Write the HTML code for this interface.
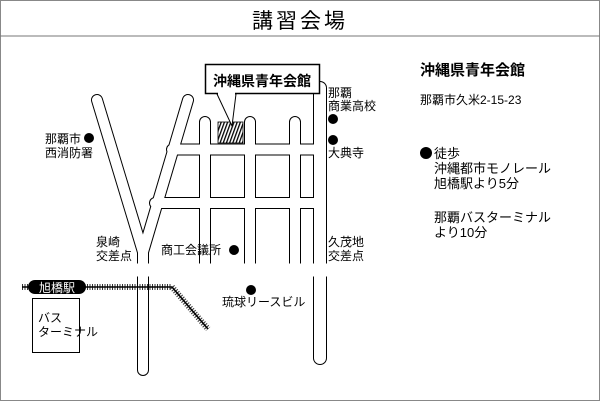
<!DOCTYPE html>
<html><head><meta charset="utf-8"><style>
body{margin:0;background:#fff}
svg{display:block}
text{font-family:"Liberation Sans","Noto Sans CJK JP",sans-serif;fill:#000}
</style></head><body>
<svg width="601" height="401" viewBox="0 0 601 401" xmlns="http://www.w3.org/2000/svg">
<defs>
<pattern id="h" width="3" height="3" patternUnits="userSpaceOnUse" patternTransform="rotate(20)">
<rect width="3" height="3" fill="#fff"/><rect width="1.3" height="3" fill="#000"/></pattern>
</defs>
<rect x="0.5" y="0.5" width="599" height="400" fill="#fff" stroke="#888"/>
<line x1="0" y1="36" x2="600" y2="36" stroke="#777" stroke-width="1"/>
<text x="300" y="28" font-size="21" text-anchor="middle" letter-spacing="3">講習会場</text>

<g fill="none" stroke-linecap="round" stroke-linejoin="round">
<g stroke="#000" stroke-width="12">
<path d="M97,100 L143,252 L143,370"/>
<path d="M188,100 L143,252"/>
<path d="M33,270 L353,270"/>
<path d="M172,149.5 L319,149.5"/>
<path d="M155,203 L319,203"/>
<path d="M205,122 V270 M250,122 V270 M295,122 V270"/>
<path d="M320,88 V358" stroke-width="14"/>
</g>
<g stroke="#fff" stroke-width="10">
<path d="M97,100 L143,252 L143,370"/>
<path d="M188,100 L143,252"/>
<path d="M33,270 L353,270" stroke-width="13"/>
<path d="M172,149.5 L319,149.5"/>
<path d="M155,203 L319,203"/>
<path d="M205,122 V270 M250,122 V270 M295,122 V270"/>
<path d="M320,88 V358" stroke-width="12"/>
</g>
</g>

<rect x="218" y="122" width="25" height="21" fill="url(#h)" stroke="#000" stroke-width="0.8"/>
<g stroke="#000">
<path d="M22,287 H172 L208,329" fill="none" stroke-width="1.5"/>
<path d="M22,287 H172 L208,329" fill="none" stroke-width="6" stroke-dasharray="1,1.5" opacity="0.8"/>
</g>
<rect x="28" y="280" width="58" height="14" rx="7" fill="#000"/>
<text x="57" y="292" font-size="12" text-anchor="middle" style="fill:#fff">旭橋駅</text>
<rect x="32.5" y="298.5" width="47" height="54" fill="#fff" stroke="#000"/>
<text x="38" y="322" font-size="12">バス</text>
<text x="38" y="336" font-size="12">ターミナル</text>

<path d="M217,94 L232,126 L236,94 Z" fill="#fff" stroke="#000"/>
<rect x="205.5" y="64.5" width="114" height="29" fill="#fff" stroke="#000" stroke-width="1.5"/>
<line x1="218" y1="93.5" x2="235" y2="93.5" stroke="#fff" stroke-width="2"/>
<text x="262" y="86" font-size="14" font-weight="bold" text-anchor="middle">沖縄県青年会館</text>

<g font-size="12">
<text x="45" y="143">那覇市</text><circle cx="89" cy="138" r="5"/>
<text x="45" y="157">西消防署</text>
<text x="96" y="246">泉崎</text><text x="96" y="260">交差点</text>
<text x="161" y="254">商工会議所</text><circle cx="234" cy="250" r="5"/>
<circle cx="251" cy="290" r="5"/><text x="222" y="306">琉球リースビル</text>
<text x="328" y="97">那覇</text><text x="328" y="110">商業高校</text>
<circle cx="333" cy="119" r="5"/><circle cx="333" cy="140" r="5"/>
<text x="328" y="157">大典寺</text>
<text x="328" y="246">久茂地</text><text x="328" y="260">交差点</text>
</g>
<text x="420" y="75" font-size="15" font-weight="bold">沖縄県青年会館</text>
<text x="420" y="104" font-size="12">那覇市久米2-15-23</text>
<circle cx="426" cy="153" r="6"/>
<g font-size="13">
<text x="434" y="158">徒歩</text>
<text x="434" y="173">沖縄都市モノレール</text>
<text x="434" y="188">旭橋駅より5分</text>
<text x="434" y="222">那覇バスターミナル</text>
<text x="434" y="237">より10分</text>
</g>
</svg>
</body></html>
